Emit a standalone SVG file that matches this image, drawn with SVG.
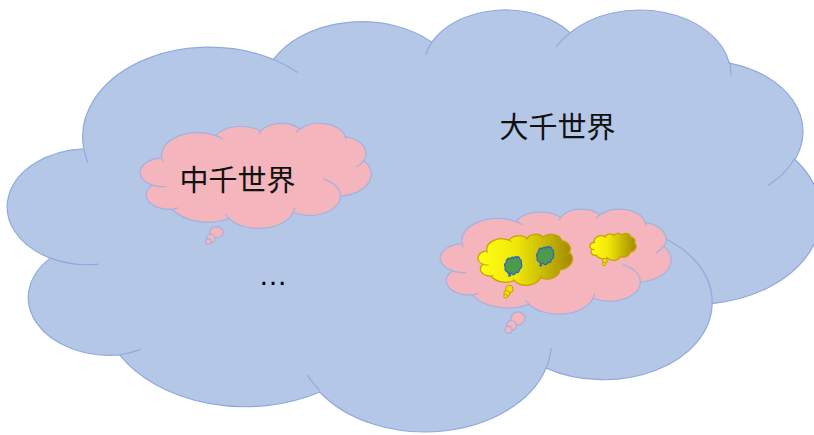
<svg xmlns="http://www.w3.org/2000/svg" xmlns:xlink="http://www.w3.org/1999/xlink" width="814" height="435" viewBox="0 0 814 435">
<defs>
<path id="cloudBody" vector-effect="non-scaling-stroke" d="M3900 14370 A6753 9190 0 0 1 14005 5202 A5333 7267 0 0 1 22456 3433 A4365 5945 0 0 1 29833 2480 A4857 6595 0 0 1 38318 5576 A5333 7273 0 0 1 41818 15459 A6775 9220 0 0 1 37404 30203 A5785 7867 0 0 1 28555 36813 A6752 9215 0 0 1 16481 39266 A7720 10543 0 0 1 5805 35472 A4360 5918 0 0 1 2114 25551 A4345 5945 0 0 1 3900 14370 Z"/>
<path id="cloudCrease" vector-effect="non-scaling-stroke" fill="none" d="M4693 26177 A4345 5945 0 0 1 2114 25551 M6928 34899 A4360 5918 0 0 1 5805 35472 M16478 39090 A6752 9215 0 0 1 15812 37524 M28827 34751 A6752 9215 0 0 1 28555 36813 M34129 22954 A5785 7867 0 0 1 37404 30203 M41798 15354 A5333 7273 0 0 1 40370 18135 M38324 5426 A4857 6595 0 0 1 38394 6840 M29078 3952 A4857 6595 0 0 1 29833 2480 M22141 4720 A4365 5945 0 0 1 22456 3433 M14000 5192 A6753 9190 0 0 1 15306 6551 M4127 15789 A6753 9190 0 0 1 3900 14370"/>
<linearGradient id="goldGrad" x1="0" y1="0" x2="1" y2="0">
<stop offset="0" stop-color="#FFFF14"/>
<stop offset="0.4" stop-color="#F0E80A"/>
<stop offset="1" stop-color="#A08A00"/>
</linearGradient>
</defs>
<style>
.big{fill:#B4C7E7;stroke:#8FAADC;stroke-width:1.2}
.bigc{fill:none;stroke:#8FAADC;stroke-width:1.2}
.pink{fill:#F4B5BD;stroke:#A4B1DC;stroke-width:1.2}
.pinkc{fill:none;stroke:#A4B1DC;stroke-width:1.2}
.gold{fill:url(#goldGrad);stroke:#C9A000;stroke-width:1.3}
.goldc{fill:none;stroke:#C9A000;stroke-width:1}
.goldt{fill:#F2E000;stroke:#C9A000;stroke-width:1}
.green{fill:#4E9A4C;stroke:#3468B0;stroke-width:1.3}
.greent{fill:#3468B0;stroke:none}
.lbl{font-family:"Noto Sans CJK SC","Noto Sans",sans-serif;font-size:29px;fill:#111}
.dots{font-family:"Liberation Sans",Arial,sans-serif;font-size:29px;fill:#000}
</style>

<g id="world-big">
<use xlink:href="#cloudBody" class="big" transform="matrix(0.018753 0 0 0.009765 10.7 8.6)"/>
<use xlink:href="#cloudCrease" class="bigc" transform="matrix(0.018753 0 0 0.009765 10.7 8.6)"/>
<text class="lbl" x="557.5" y="138" text-anchor="middle">大千世界</text>
</g>

<g id="world-mid-1">
<use xlink:href="#cloudBody" class="pink" transform="matrix(0.005324 0 0 0.002431 141.2 123)"/>
<use xlink:href="#cloudCrease" class="pinkc" transform="matrix(0.005324 0 0 0.002431 141.2 123)"/>
<ellipse class="pink" cx="216.5" cy="232.2" rx="6.7" ry="5.6"/>
<circle class="pink" cx="210.8" cy="238.5" r="4.3"/>
<circle class="pink" cx="208.3" cy="241.6" r="2.8"/>
<text class="lbl" x="237.5" y="191" text-anchor="middle">中千世界</text>
</g>

<g id="ellipsis">
<text class="dots" x="273" y="285" text-anchor="middle">…</text>
</g>

<g id="world-mid-2">
<use xlink:href="#cloudBody" class="pink" transform="matrix(0.005324 0 0 0.002431 441.2 208.8)"/>
<use xlink:href="#cloudCrease" class="pinkc" transform="matrix(0.005324 0 0 0.002431 441.2 208.8)"/>
<ellipse class="pink" cx="518" cy="318.3" rx="7" ry="6.5"/>
<circle class="pink" cx="511.5" cy="325.5" r="5"/>
<circle class="pink" cx="508.5" cy="329.8" r="3.6"/>
</g>

<g id="world-small-1">
<use xlink:href="#cloudBody" class="gold" transform="matrix(0.002176 0 0 0.001181 478.4 234.1)"/>
<use xlink:href="#cloudCrease" class="goldc" transform="matrix(0.002176 0 0 0.001181 478.4 234.1)"/>
<circle class="goldt" cx="509.3" cy="289" r="3.8"/>
<circle class="goldt" cx="506.8" cy="293.6" r="3"/>
<circle class="goldt" cx="505.6" cy="296.2" r="1.9"/>
</g>

<g id="world-small-2">
<use xlink:href="#cloudBody" class="gold" transform="matrix(0.001065 0 0 0.000625 590 233.3)"/>
<use xlink:href="#cloudCrease" class="goldc" transform="matrix(0.001065 0 0 0.000625 590 233.3)"/>
<circle class="goldt" cx="605" cy="260.8" r="2.4"/>
<circle class="goldt" cx="604" cy="264" r="1.7"/>
</g>

<g id="world-tiny-1">
<use xlink:href="#cloudBody" class="green" transform="matrix(0.000394 0 0 0.000417 504.7 256.7)"/>
<circle class="greent" cx="509.6" cy="275.3" r="1.5"/>
</g>

<g id="world-tiny-2">
<use xlink:href="#cloudBody" class="green" transform="matrix(0.000394 0 0 0.000417 536.7 246.7)"/>
<circle class="greent" cx="540.8" cy="265.3" r="1.4"/>
</g>

<g id="connectors"/>
</svg>
